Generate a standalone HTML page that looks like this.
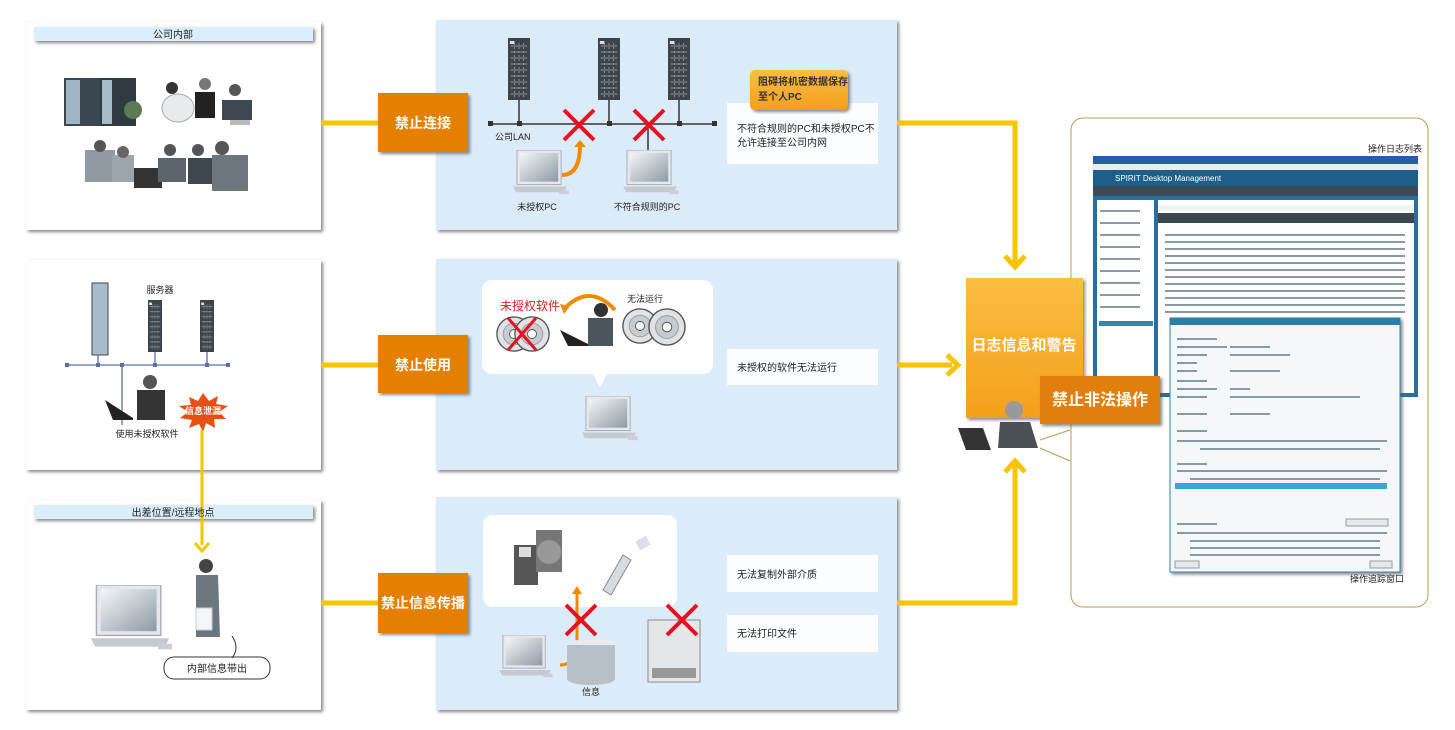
<!DOCTYPE html>
<html><head><meta charset="utf-8"><style>
html,body{margin:0;padding:0;background:#fff;width:1455px;height:730px;overflow:hidden}
text{font-family:"Liberation Sans","Noto Sans CJK SC",sans-serif}
</style></head><body>
<svg width="1455" height="730" viewBox="0 0 1455 730" xmlns="http://www.w3.org/2000/svg">
<defs>
<filter id="sh" x="-5%" y="-5%" width="110%" height="115%"><feDropShadow dx="2" dy="2" stdDeviation="1.5" flood-color="#555" flood-opacity="0.7"/></filter>
<linearGradient id="og" x1="0" y1="0" x2="0" y2="1"><stop offset="0" stop-color="#fbbd42"/><stop offset="1" stop-color="#f3a01c"/></linearGradient>
<linearGradient id="scr" x1="0" y1="0" x2="1" y2="1"><stop offset="0" stop-color="#f4f6f8"/><stop offset="1" stop-color="#8e9aa4"/></linearGradient>
<symbol id="srv" viewBox="0 0 24 62" preserveAspectRatio="none"><rect width="24" height="62" fill="#3c444a"/><g stroke="#8a959c" stroke-width="1"><path d="M3 8h18M3 14h18M3 20h18M3 26h18M3 32h18M3 38h18M3 44h18M3 50h18M3 56h18"/><path d="M7 5v54M12 5v54M17 5v54" stroke-dasharray="2 2"/></g><rect x="2" y="3" width="5" height="3" fill="#ddd"/></symbol>
<symbol id="lap" viewBox="0 0 60 50"><rect x="6" y="0" width="46" height="36" fill="#e6e9ec" stroke="#aab"/><rect x="9" y="3" width="40" height="30" fill="url(#scr)"/><path d="M2 38h56l-3 6H5z" fill="#c4cbd0"/><rect x="50" y="42" width="10" height="4" fill="#ccd"/></symbol>
<symbol id="cd" viewBox="0 0 40 40"><circle cx="20" cy="20" r="19" fill="#dfe3e6" stroke="#555" stroke-width="1.5"/><circle cx="20" cy="20" r="12" fill="#c5ccd1" stroke="#999"/><circle cx="20" cy="20" r="5" fill="#fff" stroke="#555"/></symbol>
</defs>

<g filter="url(#sh)">
<rect x="26" y="22" width="295" height="208" fill="#fff"/>
<rect x="26" y="260" width="295" height="210" fill="#fff"/>
<rect x="26" y="500" width="295" height="210" fill="#fff"/>
<rect x="436" y="20" width="461" height="210" fill="#dcebf9"/>
<rect x="436" y="259" width="461" height="211" fill="#dcebf9"/>
<rect x="436" y="497" width="461" height="213" fill="#dcebf9"/>
</g>
<g filter="url(#sh)">
<rect x="34" y="27" width="279" height="14" fill="#dbeefb"/>
<rect x="34" y="505" width="279" height="14" fill="#dbeefb"/>
</g>
<text x="173" y="38" font-size="10" text-anchor="middle" fill="#222">公司内部</text>

<g>
<rect x="64" y="78" width="38" height="48" fill="#3a4750"/><rect x="66" y="80" width="14" height="44" fill="#9fb4c4"/>
<rect x="100" y="78" width="36" height="48" fill="#2f3a42"/><rect x="102" y="80" width="10" height="44" fill="#a7bccb"/>
<circle cx="133" cy="110" r="9" fill="#5e7a55"/>
<ellipse cx="178" cy="108" rx="16" ry="14" fill="#e8eaec" stroke="#aaa"/><circle cx="172" cy="88" r="6" fill="#333"/>
<circle cx="205" cy="84" r="6" fill="#777"/><rect x="195" y="92" width="20" height="26" fill="#222"/>
<circle cx="235" cy="90" r="6" fill="#555"/><path d="M222 100h30v20h-30z" fill="#3e4850"/>
<rect x="230" y="120" width="20" height="5" fill="#bbb"/>
<path d="M85 150h30v32H85z" fill="#8f9aa2"/><circle cx="100" cy="146" r="6" fill="#555"/>
<path d="M112 155h22v27h-22z" fill="#9ca6ad"/><circle cx="123" cy="152" r="6" fill="#666"/>
<rect x="134" y="168" width="28" height="20" fill="#333"/>
<path d="M158 158h28v24h-28z" fill="#5a656d"/><circle cx="170" cy="150" r="6" fill="#555"/>
<path d="M188 158h30v26h-30z" fill="#3e474e"/><circle cx="198" cy="150" r="6" fill="#555"/>
<path d="M212 155h36v36h-36z" fill="#6b767d"/><circle cx="222" cy="148" r="7" fill="#555"/>
</g>

<rect x="92" y="283" width="16" height="72" fill="#a9bccb" stroke="#444"/>
<use href="#srv" x="148" y="300" width="14" height="52"/>
<use href="#srv" x="200" y="300" width="14" height="52"/>
<text x="160" y="293" font-size="9" fill="#222" text-anchor="middle">服务器</text>
<path d="M67 365h161M98 355v10M122 365v60M155 352v13M207 352v13" stroke="#5a6ea8" stroke-width="1.3"/>
<g fill="#5a6ea8"><rect x="65" y="363" width="4" height="4"/><rect x="226" y="363" width="4" height="4"/><rect x="96" y="363" width="4" height="4"/><rect x="120" y="363" width="4" height="4"/><rect x="153" y="363" width="4" height="4"/><rect x="205" y="363" width="4" height="4"/></g>
<circle cx="150" cy="382" r="7" fill="#555"/><path d="M137 390h28v30h-28z" fill="#333"/>
<path d="M105 400l8 20h20v-2z" fill="#222"/>
<polygon points="203,393 209,401 218,396 216,404 228,406 219,412 226,419 214,419 215,428 206,423 203,432 199,424 189,428 192,420 180,418 188,412 179,406 191,405 189,397 198,401" fill="#e84f12"/>
<text x="203" y="414" font-size="9" fill="#fff" font-weight="bold" text-anchor="middle">信息泄漏</text>
<text x="147" y="437" font-size="9" fill="#222" text-anchor="middle">使用未授权软件</text>

<use href="#lap" x="80" y="585" width="100" height="70"/>
<circle cx="206" cy="566" r="7" fill="#444"/><path d="M196 575h22l2 62h-24z" fill="#6c767d"/>
<rect x="196" y="608" width="16" height="22" fill="#f3f5f7" stroke="#ccc"/>
<rect x="164" y="657" width="106" height="22" rx="10" fill="#fff" stroke="#333"/>
<path d="M232 658q8-10 0-22" stroke="#333" fill="none"/>
<text x="217" y="672" font-size="10" fill="#222" text-anchor="middle">内部信息带出</text>

<path d="M202 430v115" stroke="#f8c300" stroke-width="3" fill="none"/>
<path d="M195 543l7 8 7-8" stroke="#f8c300" stroke-width="3" fill="none"/>
<text x="173" y="516" font-size="10" text-anchor="middle" fill="#222">出差位置/远程地点</text>

<g stroke="#f8c300" stroke-width="5" fill="none">
<path d="M321 123h57M321 365h57M321 603h57"/>
<path d="M897 123h118v140"/>
<path d="M897 365h55"/>
<path d="M897 603h118v-140"/>
<path d="M1005 256l10 11 10-11"/>
<path d="M947 355l11 10-11 10"/>
<path d="M1005 472l10-11 10 11"/>
</g>

<g filter="url(#sh)" fill="#e57f06">
<rect x="378" y="93" width="90" height="59"/>
<rect x="378" y="335" width="90" height="58"/>
<rect x="378" y="573" width="90" height="60"/>
</g>
<g font-size="14" font-weight="bold" fill="#fff" text-anchor="middle">
<text x="423" y="128">禁止连接</text>
<text x="423" y="370">禁止使用</text>
<text x="423" y="608">禁止信息传播</text>
</g>

<use href="#srv" x="508" y="38" width="22" height="62"/>
<use href="#srv" x="598" y="38" width="22" height="62"/>
<use href="#srv" x="668" y="38" width="22" height="62"/>
<path d="M490 124h226M519 100v24M609 100v24M679 100v24M648 124v40" stroke="#333" stroke-width="1.5"/>
<g fill="#333"><rect x="488" y="121" width="5" height="5"/><rect x="517" y="121" width="5" height="5"/><rect x="607" y="121" width="5" height="5"/><rect x="677" y="121" width="5" height="5"/><rect x="712" y="121" width="5" height="5"/></g>
<text x="495" y="140" font-size="9" fill="#222">公司LAN</text>
<path d="M562 175q18 0 18-30" stroke="#f08a00" stroke-width="4" fill="none"/>
<path d="M574 147l6-7 6 7z" fill="#f08a00"/>
<g stroke="#e8101e" stroke-width="4"><path d="M564 110l30 30M594 110l-30 30M634 110l30 30M664 110l-30 30"/></g>
<use href="#lap" x="510" y="150" width="60" height="48"/>
<use href="#lap" x="620" y="150" width="60" height="48"/>
<text x="537" y="210" font-size="9" fill="#222" text-anchor="middle">未授权PC</text>
<text x="647" y="210" font-size="9" fill="#222" text-anchor="middle">不符合规则的PC</text>
<rect x="727" y="103" width="151" height="61" fill="#fff" opacity="0.9"/>
<rect x="750" y="70" width="98" height="40" rx="5" fill="url(#og)" filter="url(#sh)"/>
<text x="758" y="85" font-size="10" font-weight="bold" fill="#333">阻碍将机密数据保存</text>
<text x="758" y="100" font-size="10" font-weight="bold" fill="#333">至个人PC</text>
<text x="737" y="132" font-size="10" fill="#222">不符合规则的PC和未授权PC不</text>
<text x="737" y="146" font-size="10" fill="#222">允许连接至公司内网</text>

<rect x="482" y="280" width="231" height="94" rx="10" fill="#fff"/>
<path d="M592 372l8 16 8-16z" fill="#fff"/>
<text x="500" y="310" font-size="12" fill="#e01e1e">未授权软件</text>
<text x="627" y="302" font-size="9" fill="#222">无法运行</text>
<use href="#cd" x="496" y="316" width="36" height="36"/>
<use href="#cd" x="514" y="316" width="36" height="36"/>
<g stroke="#e8101e" stroke-width="3"><path d="M508 318l28 32M536 318l-28 32"/></g>
<path d="M565 308q25-25 50 2" stroke="#f08a00" stroke-width="4" fill="none"/>
<path d="M560 304l4 10 6-8z" fill="#f08a00"/>
<circle cx="601" cy="310" r="7" fill="#333"/><path d="M588 318h25v28h-25z" fill="#4b555c"/>
<path d="M560 330l8 16h20v-2z" fill="#222"/>
<use href="#cd" x="622" y="308" width="36" height="36"/>
<use href="#cd" x="648" y="308" width="38" height="38"/>
<use href="#lap" x="574" y="396" width="70" height="48"/>
<rect x="727" y="349" width="151" height="36" fill="#fff" opacity="0.9"/>
<text x="737" y="371" font-size="10" fill="#222">未授权的软件无法运行</text>

<rect x="483" y="515" width="194" height="92" rx="10" fill="#fff"/>
<rect x="514" y="545" width="24" height="40" fill="#555"/><rect x="519" y="547" width="12" height="10" fill="#ddd"/>
<rect x="536" y="530" width="26" height="42" fill="#777"/><circle cx="549" cy="552" r="12" fill="#999"/>
<path d="M603 590l20-35 8 5-20 35z" fill="#d6dbdf" stroke="#889"/>
<rect x="637" y="538" width="12" height="10" fill="#dde" transform="rotate(-30 643 543)"/>
<path d="M560 665q17 0 17-25v-50" stroke="#f08a00" stroke-width="3" fill="none"/>
<path d="M572 594l5-8 5 8z" fill="#f08a00"/>
<use href="#lap" x="495" y="635" width="60" height="46"/>
<ellipse cx="591" cy="645" rx="24" ry="6" fill="#e8ebee"/><rect x="567" y="645" width="48" height="34" fill="#b7c0c6"/><ellipse cx="591" cy="679" rx="24" ry="6" fill="#b7c0c6"/>
<text x="591" y="695" font-size="9" fill="#222" text-anchor="middle">信息</text>
<rect x="648" y="620" width="52" height="62" fill="#e4e7ea" stroke="#888"/><rect x="652" y="668" width="44" height="10" fill="#999"/>
<g stroke="#e8101e" stroke-width="4"><path d="M566 605l30 30M596 605l-30 30M667 605l30 30M697 605l-30 30"/></g>
<rect x="727" y="555" width="151" height="37" fill="#fff" opacity="0.9"/>
<rect x="727" y="615" width="151" height="37" fill="#fff" opacity="0.9"/>
<text x="737" y="578" font-size="10" fill="#222">无法复制外部介质</text>
<text x="737" y="637" font-size="10" fill="#222">无法打印文件</text>

<rect x="1071" y="118" width="357" height="489" rx="12" fill="#fff" stroke="#b89b4e" stroke-width="1"/>
<text x="1368" y="152" font-size="9" fill="#222">操作日志列表</text>
<text x="1350" y="582" font-size="9" fill="#222">操作追踪窗口</text>
<rect x="1093" y="156" width="325" height="241" fill="#2a6e9e"/>
<rect x="1093" y="156" width="325" height="8" fill="#235fa8"/>
<rect x="1093" y="164" width="325" height="6" fill="#e9edf2"/>
<rect x="1093" y="170" width="325" height="16" fill="#1e5f8a"/>
<text x="1115" y="181" font-size="8" fill="#fff">SPIRIT Desktop Management</text>
<rect x="1093" y="186" width="325" height="10" fill="#3b4a55"/>
<rect x="1097" y="200" width="57" height="193" fill="#fff"/>
<rect x="1158" y="200" width="256" height="193" fill="#fff"/>
<rect x="1158" y="205" width="256" height="6" fill="#eef3f6"/>
<rect x="1158" y="213" width="256" height="10" fill="#3a4650"/>
<g fill="#889aa8">
<rect x="1165" y="234" width="240" height="2"/><rect x="1165" y="241" width="240" height="2"/><rect x="1165" y="248" width="240" height="2"/><rect x="1165" y="255" width="240" height="2"/><rect x="1165" y="262" width="240" height="2"/><rect x="1165" y="269" width="240" height="2"/><rect x="1165" y="276" width="240" height="2"/><rect x="1165" y="283" width="240" height="2"/><rect x="1165" y="290" width="240" height="2"/><rect x="1165" y="297" width="240" height="2"/><rect x="1165" y="304" width="240" height="2"/><rect x="1165" y="311" width="240" height="2"/>
<rect x="1100" y="210" width="40" height="2"/><rect x="1100" y="222" width="40" height="2"/><rect x="1100" y="234" width="40" height="2"/><rect x="1100" y="246" width="40" height="2"/><rect x="1100" y="258" width="40" height="2"/><rect x="1100" y="270" width="40" height="2"/><rect x="1100" y="282" width="40" height="2"/><rect x="1100" y="294" width="40" height="2"/><rect x="1100" y="306" width="40" height="2"/>
</g>
<rect x="1099" y="321" width="54" height="5" fill="#2a8ab8"/>
<rect x="1170" y="318" width="230" height="254" fill="#f4f8fa" stroke="#2a8ab8" filter="url(#sh)"/>
<rect x="1170" y="318" width="230" height="7" fill="#2a7fa8"/>
<g fill="#8899a4">
<rect x="1177" y="338" width="40" height="2"/><rect x="1177" y="346" width="50" height="2"/><rect x="1230" y="346" width="40" height="2"/>
<rect x="1177" y="354" width="30" height="2"/><rect x="1230" y="354" width="60" height="2"/>
<rect x="1177" y="362" width="20" height="2"/><rect x="1177" y="370" width="20" height="2"/><rect x="1230" y="370" width="50" height="2"/>
<rect x="1177" y="380" width="30" height="2"/><rect x="1177" y="388" width="40" height="2"/><rect x="1230" y="388" width="20" height="2"/>
<rect x="1177" y="396" width="30" height="2"/><rect x="1230" y="396" width="130" height="2"/>
<rect x="1177" y="413" width="30" height="2"/><rect x="1230" y="413" width="40" height="2"/>
<rect x="1177" y="430" width="30" height="2"/><rect x="1177" y="440" width="210" height="2"/><rect x="1200" y="448" width="180" height="2"/>
<rect x="1177" y="463" width="30" height="2"/><rect x="1177" y="470" width="210" height="2"/><rect x="1190" y="478" width="190" height="2"/>
<rect x="1177" y="523" width="40" height="2"/><rect x="1177" y="532" width="210" height="2"/><rect x="1190" y="540" width="190" height="2"/><rect x="1190" y="547" width="190" height="2"/><rect x="1190" y="554" width="190" height="2"/>
</g>
<rect x="1175" y="483" width="212" height="6" fill="#39a6d8"/>
<rect x="1175" y="561" width="24" height="7" fill="#e4e8ec" stroke="#999"/>
<rect x="1370" y="561" width="22" height="7" fill="#e4e8ec" stroke="#999"/>
<rect x="1346" y="519" width="42" height="7" fill="#e4e8ec" stroke="#999"/>
<path d="M1040 440l30-10M1040 448l30 13" stroke="#b89b4e" stroke-width="1"/>

<rect x="966" y="278" width="117" height="140" fill="url(#og)" filter="url(#sh)"/>
<text x="1024" y="350" font-size="15" font-weight="bold" fill="#fff" text-anchor="middle">日志信息和警告</text>
<rect x="1040" y="376" width="120" height="48" fill="#e07f10" filter="url(#sh)"/>
<text x="1100" y="405" font-size="16" font-weight="bold" fill="#fff" text-anchor="middle">禁止非法操作</text>
<circle cx="1014" cy="410" r="9" fill="#999"/>
<path d="M1000 422h30l8 26h-40z" fill="#4a5055"/>
<path d="M958 428l25 0 8 22h-25z" fill="#333"/>
</svg>
</body></html>
